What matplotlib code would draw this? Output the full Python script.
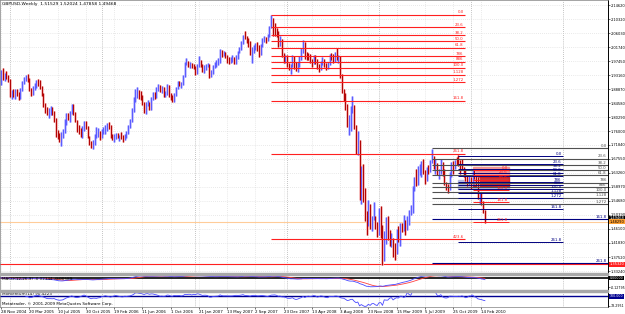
import numpy as np
import pandas as pd
import matplotlib
matplotlib.use('Agg')
import matplotlib.pyplot as plt
from matplotlib.patches import Rectangle

# GBPUSD weekly bars, first bar = week of 28 Nov 2004
first_open = 1.9060
closes = [
    1.9320, 1.9250, 1.9330, 1.9280, 1.9180,
    # 2005
    1.8730, 1.8770, 1.8700, 1.8800, 1.8750,
    1.8640, 1.8850, 1.9080, 1.9210,
    1.9230, 1.9200, 1.8870, 1.8780,
    1.8940, 1.8970, 1.9090, 1.9080,
    1.8970, 1.8730, 1.8400, 1.8280, 1.8170,
    1.8220, 1.8270, 1.8170, 1.7970,
    1.7510, 1.7440, 1.7330, 1.7490, 1.7600,
    1.7890, 1.8100, 1.7990, 1.8180,
    1.8380, 1.8160, 1.7910, 1.7660,
    1.7640, 1.7440, 1.7680, 1.7860, 1.7720,
    1.7410, 1.7250, 1.7140, 1.7270,
    1.7450, 1.7560, 1.7560, 1.7400,
    # 2006
    1.7600, 1.7650, 1.7700, 1.7790, 1.7780,
    1.7450, 1.7390, 1.7440, 1.7480,
    1.7430, 1.7450, 1.7410, 1.7370,
    1.7480, 1.7600, 1.7740, 1.7900, 1.8250,
    1.8560, 1.8800, 1.8810, 1.8690,
    1.8650, 1.8440, 1.8200, 1.8450,
    1.8460, 1.8330, 1.8610, 1.8730, 1.8670,
    1.8880, 1.8960, 1.8860, 1.8940,
    1.8720, 1.8750, 1.8990, 1.8690,
    1.8650, 1.8520, 1.8730, 1.8920, 1.9090,
    1.9030, 1.9080, 1.9280, 1.9680,
    1.9710, 1.9610, 1.9640, 1.9590, 1.9580,
    # 2007
    1.9350, 1.9610, 1.9760, 1.9630,
    1.9510, 1.9540, 1.9590, 1.9630,
    1.9360, 1.9390, 1.9570, 1.9660,
    1.9710, 1.9720, 2.0040, 1.9970, 1.9990,
    1.9880, 1.9730, 1.9720, 1.9780,
    1.9850, 1.9690, 1.9860, 2.0010,
    2.0130, 2.0300, 2.0500, 2.0490, 2.0350,
    2.0290, 2.0010, 2.0090, 2.0190,
    2.0230, 2.0110, 1.9950, 2.0220, 2.0410,
    2.0420, 2.0410, 2.0500, 2.0770,
    2.0930, 2.0910, 2.0690, 2.0580,
    2.0250, 2.0390, 1.9910, 1.9740, 1.9850,
    # 2008
    1.9610, 1.9540, 1.9570, 1.9890,
    1.9600, 1.9470, 1.9640, 1.9830,
    1.9990, 2.0270, 1.9890, 1.9870, 1.9860,
    1.9820, 1.9700, 1.9900, 1.9780,
    1.9580, 1.9490, 1.9680, 1.9740,
    1.9630, 1.9510, 1.9680, 1.9930, 1.9860,
    1.9760, 1.9950, 1.9840, 1.9870,
    1.9310, 1.8840, 1.8690, 1.8420, 1.7920,
    1.7920, 1.8190, 1.8390, 1.7730,
    1.7050, 1.7250, 1.5680, 1.6170,
    1.5700, 1.4910, 1.4700, 1.5360, 1.4660,
    1.4970, 1.5010, 1.4700, 1.4590,
    # 2009
    1.5150, 1.4660, 1.3740, 1.4470,
    1.4800, 1.4380, 1.4290, 1.4320,
    1.4130, 1.3950, 1.4530, 1.4450, 1.4770,
    1.4640, 1.4760, 1.4590, 1.4960,
    1.5140, 1.5160, 1.5910, 1.6160, 1.5990,
    1.6440, 1.6480, 1.6510, 1.6310,
    1.6240, 1.6470, 1.6440, 1.6700,
    1.6720, 1.6530, 1.6540, 1.6300, 1.6370,
    1.6620, 1.6320, 1.5990, 1.5900,
    1.5850, 1.6330, 1.6510, 1.6470,
    1.6700, 1.6650, 1.6590, 1.6530, 1.6490,
    1.6300, 1.6130, 1.6010, 1.6160,
    # 2010
    1.6040, 1.6350, 1.6230, 1.6180, 1.5580,
    1.5610, 1.5460, 1.5153, 1.49468,
]
highs = [
    1.9470, 1.9549, 1.9380, 1.9450, 1.9320,
    1.9200, 1.8860, 1.8900, 1.8880, 1.8900,
    1.8800, 1.8910, 1.9150, 1.9260,
    1.9320, 1.9340, 1.9220, 1.8920,
    1.8980, 1.9080, 1.9160, 1.9200,
    1.9170, 1.8990, 1.8760, 1.8460, 1.8330,
    1.8310, 1.8360, 1.8350, 1.8220,
    1.7990, 1.7630, 1.7550, 1.7580, 1.7680,
    1.7960, 1.8160, 1.8150, 1.8220,
    1.8430, 1.8420, 1.8200, 1.7950,
    1.7790, 1.7700, 1.7760, 1.7900, 1.7920,
    1.7760, 1.7450, 1.7310, 1.7330,
    1.7510, 1.7740, 1.7690, 1.7600,
    1.7660, 1.7720, 1.7790, 1.7860, 1.7880,
    1.7800, 1.7530, 1.7510, 1.7550,
    1.7540, 1.7490, 1.7580, 1.7480,
    1.7530, 1.7620, 1.7780, 1.7960, 1.8310,
    1.8640, 1.8880, 1.8940, 1.8870,
    1.8820, 1.8700, 1.8480, 1.8490,
    1.8560, 1.8500, 1.8660, 1.8790, 1.8800,
    1.8940, 1.9050, 1.9000, 1.8990,
    1.8960, 1.8830, 1.9030, 1.9000,
    1.8780, 1.8700, 1.8780, 1.8960, 1.9130,
    1.9150, 1.9120, 1.9330, 1.9720,
    1.9850, 1.9760, 1.9720, 1.9680, 1.9650,
    1.9600, 1.9650, 1.9910, 1.9790,
    1.9660, 1.9620, 1.9650, 1.9700,
    1.9660, 1.9460, 1.9640, 1.9720,
    1.9780, 1.9850, 2.0130, 2.0090, 2.0060,
    2.0030, 1.9920, 1.9860, 1.9860,
    1.9930, 1.9880, 1.9920, 2.0060,
    2.0190, 2.0350, 2.0540, 2.0658, 2.0520,
    2.0440, 2.0350, 2.0180, 2.0240,
    2.0300, 2.0340, 2.0250, 2.0260, 2.0440,
    2.0500, 2.0470, 2.0560, 2.0830,
    2.1161, 2.1070, 2.0880, 2.0770,
    2.0660, 2.0520, 2.0420, 1.9990, 1.9920,
    1.9940, 1.9700, 1.9660, 1.9940,
    1.9900, 1.9720, 1.9710, 1.9890,
    2.0160, 2.0397, 2.0340, 2.0020, 2.0000,
    1.9950, 1.9820, 1.9930, 1.9920,
    1.9800, 1.9660, 1.9740, 1.9860,
    1.9820, 1.9700, 1.9720, 1.9960, 1.9980,
    1.9950, 2.0020, 2.0157, 1.9940,
    1.9900, 1.9340, 1.8900, 1.8780, 1.8300,
    1.8100, 1.8370, 1.8690, 1.8410,
    1.7780, 1.7620, 1.7330, 1.6540,
    1.6600, 1.5850, 1.5160, 1.5500, 1.5370,
    1.5020, 1.5450, 1.5020, 1.4830,
    1.5240, 1.5310, 1.4720, 1.4550,
    1.4990, 1.5000, 1.4570, 1.4480,
    1.4330, 1.4170, 1.4600, 1.4690, 1.4800,
    1.4780, 1.5030, 1.4880, 1.5000,
    1.5180, 1.5350, 1.5920, 1.6190, 1.6440,
    1.6540, 1.6600, 1.6700, 1.6740,
    1.6400, 1.6520, 1.6580, 1.6730,
    1.7043, 1.6840, 1.6740, 1.6620, 1.6430,
    1.6740, 1.6660, 1.6460, 1.6060,
    1.5990, 1.6360, 1.6660, 1.6690,
    1.6720, 1.6820, 1.6877, 1.6720, 1.6740,
    1.6500, 1.6460, 1.6230, 1.6220,
    1.6190, 1.6460, 1.6450, 1.6250, 1.6200,
    1.5710, 1.5750, 1.5460, 1.52024,
]
lows = [
    1.9020, 1.9160, 1.9130, 1.9210, 1.9100,
    1.8660, 1.8600, 1.8640, 1.8600, 1.8680,
    1.8550, 1.8580, 1.8830, 1.9040,
    1.9130, 1.9110, 1.8840, 1.8690,
    1.8700, 1.8860, 1.8930, 1.8970,
    1.8900, 1.8670, 1.8340, 1.8160, 1.8090,
    1.8010, 1.8100, 1.8110, 1.7890,
    1.7420, 1.7360, 1.7280, 1.7160, 1.7400,
    1.7560, 1.7800, 1.7940, 1.7870,
    1.8130, 1.8110, 1.7880, 1.7580,
    1.7510, 1.7420, 1.7380, 1.7600, 1.7660,
    1.7380, 1.7180, 1.7080, 1.7047,
    1.7190, 1.7380, 1.7420, 1.7330,
    1.7380, 1.7530, 1.7520, 1.7600, 1.7660,
    1.7400, 1.7330, 1.7280, 1.7360,
    1.7380, 1.7290, 1.7370, 1.7280,
    1.7330, 1.7400, 1.7520, 1.7700, 1.7870,
    1.8200, 1.8500, 1.8630, 1.8600,
    1.8560, 1.8400, 1.8160, 1.8140,
    1.8360, 1.8260, 1.8240, 1.8560, 1.8600,
    1.8630, 1.8820, 1.8800, 1.8770,
    1.8660, 1.8650, 1.8700, 1.8640,
    1.8570, 1.8480, 1.8490, 1.8680, 1.8880,
    1.8980, 1.8920, 1.9020, 1.9260,
    1.9620, 1.9560, 1.9540, 1.9520, 1.9500,
    1.9330, 1.9350, 1.9580, 1.9560,
    1.9400, 1.9380, 1.9460, 1.9560,
    1.9220, 1.9250, 1.9350, 1.9520,
    1.9560, 1.9640, 1.9700, 1.9860, 1.9910,
    1.9830, 1.9700, 1.9660, 1.9700,
    1.9710, 1.9650, 1.9660, 1.9820,
    1.9980, 2.0100, 2.0270, 2.0420, 2.0290,
    2.0170, 1.9940, 1.9680, 1.9990,
    2.0080, 2.0050, 1.9880, 1.9920, 2.0180,
    2.0320, 2.0290, 2.0360, 2.0470,
    2.0750, 2.0520, 2.0520, 2.0480,
    2.0190, 2.0220, 1.9880, 1.9700, 1.9690,
    1.9560, 1.9460, 1.9340, 1.9560,
    1.9500, 1.9440, 1.9400, 1.9560,
    1.9780, 1.9980, 1.9820, 1.9770, 1.9780,
    1.9700, 1.9570, 1.9660, 1.9650,
    1.9500, 1.9420, 1.9460, 1.9620,
    1.9560, 1.9460, 1.9490, 1.9640, 1.9790,
    1.9690, 1.9710, 1.9790, 1.9700,
    1.9240, 1.8760, 1.8510, 1.8250, 1.7740,
    1.7470, 1.7600, 1.8160, 1.7660,
    1.6900, 1.6860, 1.5500, 1.5370,
    1.5440, 1.4840, 1.4430, 1.4750, 1.4620,
    1.4550, 1.4880, 1.4620, 1.4350,
    1.4420, 1.4320, 1.3503, 1.3620,
    1.4160, 1.4280, 1.4100, 1.4050,
    1.3740, 1.3657, 1.3850, 1.4210, 1.4080,
    1.4510, 1.4550, 1.4430, 1.4570,
    1.4730, 1.5040, 1.5100, 1.5770, 1.5920,
    1.5940, 1.6250, 1.6200, 1.6290,
    1.5990, 1.6080, 1.6300, 1.6350,
    1.6620, 1.6450, 1.6300, 1.6250, 1.6140,
    1.6300, 1.6240, 1.5940, 1.5800,
    1.5707, 1.5800, 1.6210, 1.6280,
    1.6440, 1.6560, 1.6530, 1.6280, 1.6450,
    1.6200, 1.6080, 1.5920, 1.5960,
    1.5830, 1.6000, 1.6150, 1.5940, 1.5530,
    1.5360, 1.5340, 1.5100, 1.47858,
]

date_labels = ['28 Nov 2004', '20 Mar 2005', '10 Jul 2005', '30 Oct 2005', '19 Feb 2006',
               '11 Jun 2006', '1 Oct 2006', '21 Jan 2007', '13 May 2007', '2 Sep 2007',
               '23 Dec 2007', '13 Apr 2008', '3 Aug 2008', '23 Nov 2008', '15 Mar 2009',
               '5 Jul 2009', '25 Oct 2009', '14 Feb 2010']
date_bars = [0, 16, 32, 48, 64, 80, 96, 112, 128, 144, 160, 176, 192, 208, 224, 240, 256, 272]
year_bars = [5, 57, 110, 162, 214, 266, 318]

price_ticks = [2.14620, 2.10320, 2.06030, 2.01740, 1.97450, 1.93160, 1.88870, 1.84580,
               1.80290, 1.76000, 1.71840, 1.67550, 1.63260, 1.58970, 1.54680, 1.50390,
               1.46100, 1.41830, 1.37520, 1.33240]

# fibo objects: (high, low, first bar, last bar)
fib_levels = [0.0, 23.6, 38.2, 50.0, 61.8, 78.6, 88.6, 100.0, 112.8, 127.2, 161.8, 261.8, 423.6]
fib_names = ['0.0', '23.6', '38.2', '50.0', '61.8', '786', '886', '100.0', '1.128', '1.272',
             '161.8', '261.8', '423.6']
fib_red = (2.1161, 1.9540, 153, 262.7)
fib_gray = (1.7076, 1.5734, 244, 343.7)
fib_blue = (1.6838, 1.5832, 258.8, 318.2)
fib_small = (1.6411, 1.5801, 267.3, 287.7)
small_levels = [0.0, 23.6, 50.0, 100.0, 161.8, 261.8]
small_names = ['0.0', '23.6', '50.0', '100.0', '161.8', '261.8']

orange_line = 1.4829
red_line = 1.3532

c = np.array(closes)
h = np.array(highs)
l = np.array(lows)
o = np.r_[first_open, c[:-1]]
o[-1] = 1.51529
h = np.maximum(h, np.maximum(o, c))
l = np.minimum(l, np.minimum(o, c))
idx = np.arange(len(c))
up = c >= o

s = pd.Series(c)
macd = s.ewm(span=12, adjust=False).mean() - s.ewm(span=26, adjust=False).mean()
signal = macd.rolling(9, min_periods=1).mean()
mom = s / s.shift(14) * 100

W, H = 625, 314
fig = plt.figure(figsize=(W / 100, H / 100), dpi=100)
fig.patch.set_facecolor('white')
LAB = 2.6   # right scale font size
LAB_S = 2.3  # sub window scale font size


def px_axes(top, bottom):
    return fig.add_axes([0, 1 - bottom / H, 608 / W, (bottom - top) / H])


ax = px_axes(0, 273)
ax2 = px_axes(275, 290)
ax3 = px_axes(292, 307)

# window separators
for y0 in (273, 290):
    fig.patches.append(Rectangle((0, 1 - (y0 + 2) / H), 608 / W, 2 / H,
                                 transform=fig.transFigure, color='#a8a8a8'))

xlim = (-0.6, 343.7)
for a in (ax, ax2, ax3):
    a.set_xlim(*xlim)
    a.set_facecolor('white')
    for sp in a.spines.values():
        sp.set_linewidth(0.5)
        sp.set_color('#808080')
    a.spines['right'].set_color('black')
    a.spines['right'].set_linewidth(0.7)
    for xb in date_bars:
        a.axvline(xb, color='#d4d4d4', lw=0.5, ls=(0, (1, 2)), zorder=0)
    for xb in year_bars:
        a.axvline(xb, color='#8c8c8c', lw=0.5, ls=(0, (1, 2)), zorder=0)
    a.yaxis.tick_right()
    a.tick_params(axis='y', labelsize=LAB, length=1.2, width=0.4, pad=0.8)
    a.tick_params(axis='x', bottom=False, labelbottom=False)
for a in (ax2, ax3):
    a.tick_params(axis='y', labelsize=LAB_S, pad=0.5)

# main price window
ax.set_ylim(1.3263, 2.1615)
ax.set_yticks(price_ticks)
ax.set_yticklabels(['%.5f' % p for p in price_ticks])
for p in price_ticks:
    ax.axhline(p, color='#d4d4d4', lw=0.5, ls=(0, (1, 2)), zorder=0)

ax.axhline(orange_line, color='#ffcc99', lw=0.8, zorder=1)
ax.axhline(red_line, color='#ff2020', lw=0.8, zorder=1)

# shaded boxes
ax.add_patch(Rectangle((fib_blue[2], 1.5820), fib_small[3] - fib_blue[2], 1.6094 - 1.5820,
                       color='#a8b0dc', alpha=0.8, zorder=1))
ax.add_patch(Rectangle((fib_small[2], 1.6186), fib_small[3] - fib_small[2], 1.6491 - 1.6186,
                       color='#f08a8a', alpha=0.85, zorder=1))
ax.add_patch(Rectangle((fib_small[2], 1.5911), fib_small[3] - fib_small[2], 1.6186 - 1.5911,
                       color='#c41818', alpha=0.85, zorder=1))

# bars
ax.vlines(idx[up], l[up], h[up], colors='#b4b4ff', lw=1.8, zorder=2)
ax.vlines(idx[~up], l[~up], h[~up], colors='#f2a8a8', lw=1.8, zorder=2)
ax.vlines(idx[up], l[up], h[up], colors='#5a5aff', lw=0.7, zorder=3)
ax.vlines(idx[~up], l[~up], h[~up], colors='#b00000', lw=0.7, zorder=3)


def draw_fib(hi, lo, x0, x1, levels, names, colors, lw=0.8):
    for lev, name, col in zip(levels, names, colors):
        y = hi - (hi - lo) * lev / 100
        ax.hlines(y, x0, x1, color=col, lw=lw, zorder=4)
        ax.text(x1 - 0.8, y + 0.0012, name, ha='right', va='bottom', fontsize=2.8,
                color=col, zorder=5)


draw_fib(*fib_red, fib_levels, fib_names, ['#ff2020'] * 13)
draw_fib(*fib_gray, fib_levels[:12], fib_names[:12], ['#505050'] * 10 + ['#000080'] * 2)
draw_fib(*fib_blue, fib_levels[:12], fib_names[:12], ['#000080'] * 12, lw=0.7)
draw_fib(*fib_small, small_levels, small_names, ['#ff2020'] * 6, lw=0.7)

ax.text(0.004, 0.993, 'GBPUSD,Weekly  1.51529 1.52024 1.47858 1.49468',
        transform=ax.transAxes, ha='left', va='top', fontsize=3.2, color='black')

ytr = ax.get_yaxis_transform()
box = dict(edgecolor='none', pad=0.3)
ax.text(1.003, c[-1], '%.5f' % c[-1], transform=ytr, fontsize=LAB, color='white',
        va='center', ha='left', bbox=dict(box, facecolor='black'))
ax.text(1.003, orange_line, '%.5f' % orange_line, transform=ytr, fontsize=LAB, color='black',
        va='center', ha='left', bbox=dict(box, facecolor='#ffa030'))
ax.text(1.003, red_line, '%.5f' % red_line, transform=ytr, fontsize=LAB, color='white',
        va='center', ha='left', bbox=dict(box, facecolor='#ff2020'))

# MACD window
ax2.set_ylim(-0.165, 0.04)
ax2.axhline(0, color='black', lw=1.2, zorder=1)
ax2.plot(idx, signal, color='#ff4040', lw=0.6, zorder=2)
ax2.plot(idx, macd, color='#4848ff', lw=0.6, zorder=3)
ax2.set_yticks([-0.12795])
ax2.set_yticklabels(['-0.12795'])
ax2.text(0.004, 0.72, 'MACD(12,26,9) %.5f %.5f' % (macd.iloc[-1], signal.iloc[-1]),
         transform=ax2.transAxes, fontsize=3, va='center', ha='left', color='black', zorder=5)
ax2.text(1.003, 0, '0.00000', transform=ax2.get_yaxis_transform(), fontsize=LAB_S,
         color='white', va='center', ha='left', bbox=dict(box, facecolor='black'))

# Momentum window
ax3.set_ylim(76, 110)
ax3.axhline(100, color='#000090', lw=1.0, zorder=1)
ax3.plot(idx, mom, color='#4848ff', lw=0.6, zorder=2)
ax3.set_yticks([78.2951])
ax3.set_yticklabels(['78.2951'])
ax3.text(0.004, 0.86, 'Momentum(14) %.4f' % mom.iloc[-1], transform=ax3.transAxes,
         fontsize=3, va='center', ha='left', color='black')
ax3.text(0.004, 0.2, 'Metatrader, \u00a9 2001-2009 MetaQuotes Software Corp.',
         transform=ax3.transAxes, fontsize=3, va='center', ha='left', color='black')
ax3.text(1.003, 100, '100.000', transform=ax3.get_yaxis_transform(), fontsize=LAB_S,
         color='white', va='center', ha='left', bbox=dict(box, facecolor='#000090'))

ax3.set_xticks(date_bars)
ax3.set_xticklabels(date_labels, ha='left')
ax3.tick_params(axis='x', bottom=True, labelbottom=True, labelsize=2.9, length=1.5,
                width=0.4, pad=0.8)

fig.savefig('out.png', dpi=100, facecolor='white')
